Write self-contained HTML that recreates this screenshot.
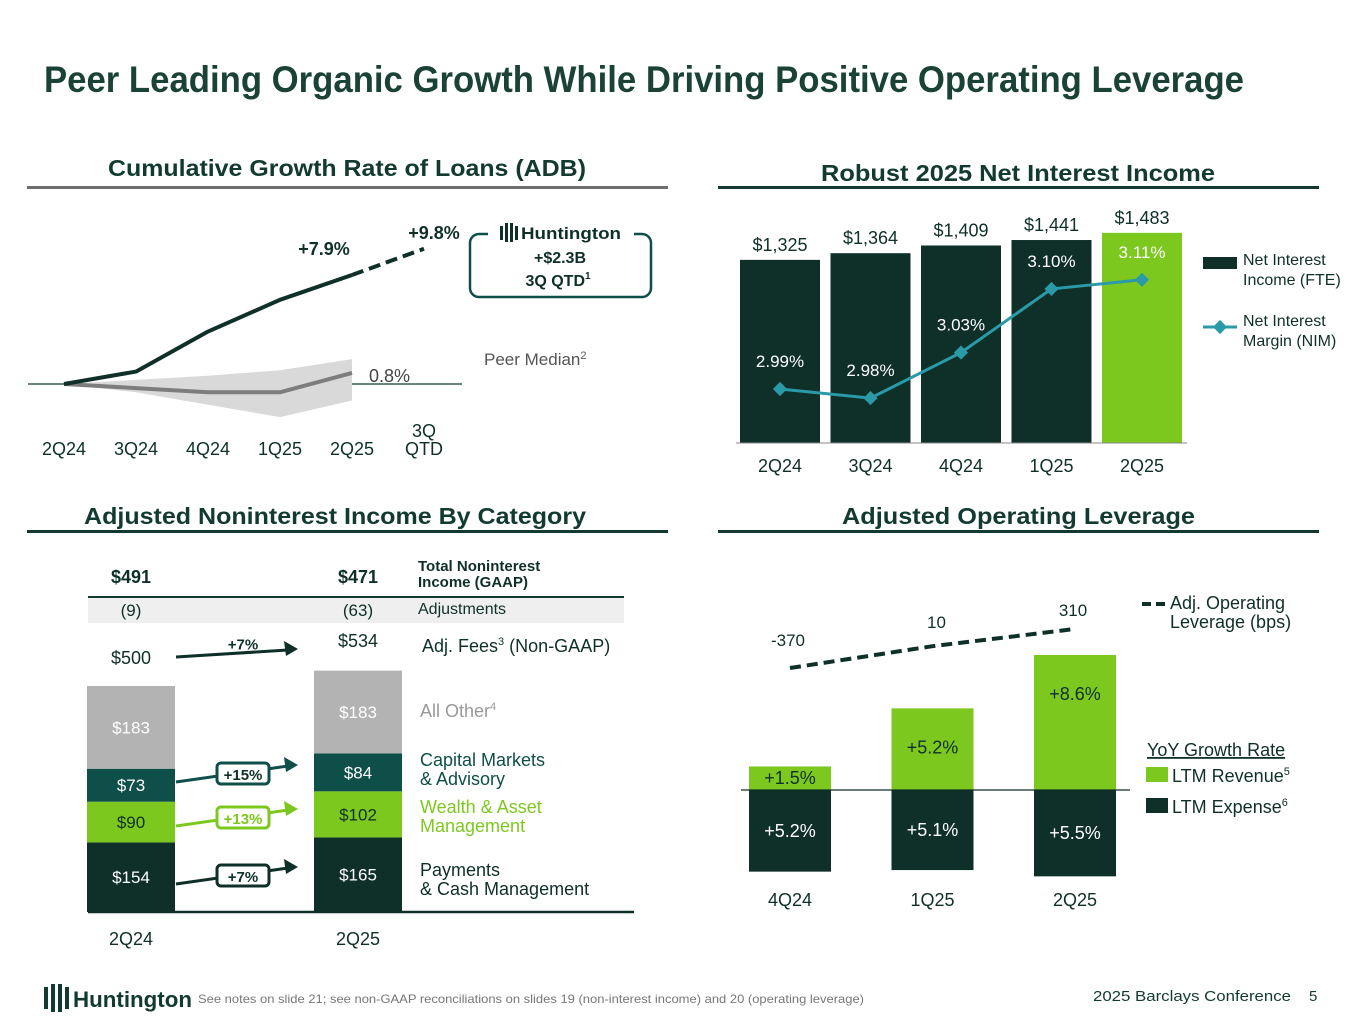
<!DOCTYPE html>
<html><head><meta charset="utf-8"><style>
html,body{margin:0;padding:0;background:#fff;}
svg{display:block;font-family:"Liberation Sans",sans-serif;}
</style></head><body>
<svg id="s" width="1365" height="1024" viewBox="0 0 1365 1024" xmlns="http://www.w3.org/2000/svg">
<text x="44" y="92" font-size="37" font-weight="bold" fill="#1a4236" textLength="1200" lengthAdjust="spacingAndGlyphs">Peer Leading Organic Growth While Driving Positive Operating Leverage</text>

<text x="108" y="176" font-size="23" font-weight="bold" fill="#123a30" textLength="478" lengthAdjust="spacingAndGlyphs">Cumulative Growth Rate of Loans (ADB)</text>
<rect x="27" y="186" width="641" height="3" fill="#6e6e6e"/>
<text x="821" y="181" font-size="23" font-weight="bold" fill="#123a30" textLength="394" lengthAdjust="spacingAndGlyphs">Robust 2025 Net Interest Income</text>
<rect x="718" y="186" width="601" height="3" fill="#123a30"/>
<text x="84" y="524" font-size="23" font-weight="bold" fill="#123a30" textLength="502" lengthAdjust="spacingAndGlyphs">Adjusted Noninterest Income By Category</text>
<rect x="27" y="530" width="641" height="3" fill="#123a30"/>
<text x="842" y="524" font-size="23" font-weight="bold" fill="#123a30" textLength="353" lengthAdjust="spacingAndGlyphs">Adjusted Operating Leverage</text>
<rect x="718" y="530" width="601" height="3" fill="#123a30"/>

<g id="c1"></g><g id="c2"></g><g id="c3"></g><g id="c4"></g>

<g>
<rect x="44" y="987" width="4" height="22" fill="#123a30"/><rect x="51" y="984" width="4" height="28" fill="#123a30"/><rect x="58" y="984" width="4" height="28" fill="#123a30"/><rect x="65" y="987" width="4" height="22" fill="#123a30"/>
<text x="73" y="1007" font-size="22" font-weight="bold" fill="#123a30" textLength="119" lengthAdjust="spacingAndGlyphs">Huntington</text>
</g>
<text x="198" y="1003" font-size="12" fill="#777" textLength="666" lengthAdjust="spacingAndGlyphs">See notes on slide 21; see non-GAAP reconciliations on slides 19 (non-interest income) and 20 (operating leverage)</text>
<text x="1093" y="1001" font-size="15" fill="#123a30" textLength="198" lengthAdjust="spacingAndGlyphs">2025 Barclays Conference</text>
<text x="1309" y="1001" font-size="15" fill="#123a30">5</text>
</svg>
<script>
// ---------- Chart 1 data ----------
const loanCats = ["2Q24","3Q24","4Q24","1Q25","2Q25","3Q\nQTD"];
const hbanGrowth = [0, 0.9, 3.8, 6.1, 7.9, 9.8];
const peerMedian = [0, -0.3, -0.6, -0.6, 0.8];
const peerHigh = [0, 0.3, 0.6, 1.0, 1.8];
const peerLow = [0, -0.6, -1.5, -2.4, -1.2];
// ---------- Chart 2 data ----------
const niiCats = ["2Q24","3Q24","4Q24","1Q25","2Q25"];
const niiValues = [1325, 1364, 1409, 1441, 1483];
const niiLabels = ["$1,325","$1,364","$1,409","$1,441","$1,483"];
const nimValues = [2.99, 2.98, 3.03, 3.10, 3.11];
const nimLabels = ["2.99%","2.98%","3.03%","3.10%","3.11%"];
// ---------- Chart 3 data ----------
const feeCats = ["2Q24","2Q25"];
const payments = [154, 165];
const wealth = [90, 102];
const capMkts = [73, 84];
const allOther = [183, 183];
const adjFees = ["$500","$534"];
// ---------- Chart 4 data ----------
const levCats = ["4Q24","1Q25","2Q25"];
const revGrowth = [1.5, 5.2, 8.6];
const expGrowth = [5.2, 5.1, 5.5];
const opLev = [-370, 10, 310];

const NS="http://www.w3.org/2000/svg";
const DK="#0f2f29", GR="#7dc81f", TL="#2a9aa8", GY="#b3b3b3", TEAL2="#0f4f4a";
function mk(parent,tag,attrs,txt){const e=document.createElementNS(NS,tag);for(const k in attrs)e.setAttribute(k,attrs[k]);if(txt!=null)e.textContent=txt;parent.appendChild(e);return e;}

// ===== Chart 1 =====
(function(){
const g=document.getElementById('c1');
const x=i=>64+i*72, y=v=>384-v*13.8;
const base=mk(g,'line',{x1:28,x2:462,y1:384,y2:384,stroke:"#123a30","stroke-width":1.2});


let band="";
peerHigh.forEach((v,i)=>band+=(i?"L":"M")+x(i)+","+y(v));
for(let i=peerLow.length-1;i>=0;i--)band+="L"+x(i)+","+y(peerLow[i]);
const b=mk(g,'path',{d:band+"Z",fill:"#d9d9d9"});


const pm=mk(g,'polyline',{points:peerMedian.map((v,i)=>x(i)+","+y(v)).join(" "),fill:"none",stroke:"#7d7d7d","stroke-width":4});


const hl=mk(g,'polyline',{points:hbanGrowth.slice(0,5).map((v,i)=>x(i)+","+y(v)).join(" "),fill:"none",stroke:DK,"stroke-width":4,"stroke-linejoin":"round"});


const hd=mk(g,'line',{x1:x(4),y1:y(hbanGrowth[4]),x2:x(5),y2:y(hbanGrowth[5]),stroke:DK,"stroke-width":4,"stroke-dasharray":"12,6"});


const l1=mk(g,'text',{x:x(4)-28,y:y(hbanGrowth[4])-20,"font-size":18,"font-weight":"bold",fill:DK,"text-anchor":"middle"},"+"+hbanGrowth[4]+"%");


const l2=mk(g,'text',{x:x(5)+10,y:y(hbanGrowth[5])-10,"font-size":18,"font-weight":"bold",fill:DK,"text-anchor":"middle"},"+"+hbanGrowth[5]+"%");


const l3=mk(g,'text',{x:x(4)+17,y:y(peerMedian[4])+9,"font-size":18,fill:"#444"},peerMedian[4].toFixed(1)+"%");


const pml=mk(g,'text',{x:484,y:365,"font-size":17,fill:"#555"},"Peer Median");


mk(pml,'tspan',{"font-size":11,dy:-6},"2");
loanCats.forEach((c,i)=>{
  const parts=c.split("\n");
  const t=mk(g,'text',{x:x(i),y:parts.length>1?437:455,"font-size":18,fill:DK,"text-anchor":"middle"});
  
  
  parts.forEach((p,j)=>mk(t,'tspan',{x:x(i),dy:j?18:0},p));
});
const box=mk(g,'rect',{x:470,y:234,width:181,height:63,rx:9,fill:"#fff",stroke:TEAL2,"stroke-width":2.5});


mk(g,'rect',{x:488,y:226,width:146,height:16,fill:"#fff"});
[500,505,510,515].forEach((xx,k)=>mk(g,'rect',{x:xx,y:k==0||k==3?226:223,width:3,height:k==0||k==3?14:19,fill:DK}));
const hn=mk(g,'text',{x:521,y:239,"font-size":17,"font-weight":"bold",fill:DK,textLength:100,lengthAdjust:"spacingAndGlyphs"},"Huntington");


const c1t=mk(g,'text',{x:560,y:263,"font-size":16,"font-weight":"bold",fill:DK,"text-anchor":"middle"},"+$2.3B");


const c2t=mk(g,'text',{x:558,y:286,"font-size":16,"font-weight":"bold",fill:DK,"text-anchor":"middle"},"3Q QTD");


mk(c2t,'tspan',{"font-size":10,dy:-7},"1");
})();

// ===== Chart 2 =====
(function(){
const g=document.getElementById('c2');
const x=i=>780+i*90.5, base=443, h=v=>(v-254)*0.171, yN=v=>389-(v-2.99)*910;
niiValues.forEach((v,i)=>{
  const r=mk(g,'rect',{x:x(i)-40,y:base-h(v),width:80,height:h(v),fill:i==4?GR:DK});
  
  
  const t=mk(g,'text',{x:x(i),y:base-h(v)-9,"font-size":18,fill:DK,"text-anchor":"middle"},niiLabels[i]);
  
  
  const c=mk(g,'text',{x:x(i),y:472,"font-size":18,fill:DK,"text-anchor":"middle"},niiCats[i]);
  
  
});
const ax=mk(g,'line',{x1:736,x2:1187,y1:base,y2:base,stroke:"#888","stroke-width":1});


const nl=mk(g,'polyline',{points:nimValues.map((v,i)=>x(i)+","+yN(v)).join(" "),fill:"none",stroke:TL,"stroke-width":3});


nimValues.forEach((v,i)=>{
  const m=mk(g,'rect',{x:x(i)-5,y:yN(v)-5,width:10,height:10,fill:TL,transform:`rotate(45 ${x(i)} ${yN(v)})`});
  
  
  const t=mk(g,'text',{x:x(i),y:yN(v)-22,"font-size":17,fill:"#fff","text-anchor":"middle"},nimLabels[i]);
  
  
});
const lg1=mk(g,'rect',{x:1203,y:257,width:34,height:12,fill:DK});


const lt1=mk(g,'text',{x:1243,y:265,"font-size":16,fill:DK});


mk(lt1,'tspan',{x:1243,dy:0},"Net Interest");mk(lt1,'tspan',{x:1243,dy:20},"Income (FTE)");
const lg2=mk(g,'line',{x1:1203,x2:1237,y1:327,y2:327,stroke:TL,"stroke-width":3});


mk(g,'rect',{x:1215,y:322,width:10,height:10,fill:TL,transform:"rotate(45 1220 327)"});
const lt2=mk(g,'text',{x:1243,y:326,"font-size":16,fill:DK});


mk(lt2,'tspan',{x:1243,dy:0},"Net Interest");mk(lt2,'tspan',{x:1243,dy:20},"Margin (NIM)");
})();

// ===== Chart 3 =====
(function(){
const g=document.getElementById('c3');
const x=i=>131+i*227, base=912, s=0.452;
const hdr=[["$491","$471"],["(9)","(63)"]];
const band=mk(g,'rect',{x:88,y:597,width:536,height:26,fill:"#efefef"});


const rl=mk(g,'line',{x1:88,x2:624,y1:597,y2:597,stroke:"#123a30","stroke-width":2});


feeCats.forEach((c,i)=>{
  const t1=mk(g,'text',{x:x(i),y:583,"font-size":18,"font-weight":"bold",fill:DK,"text-anchor":"middle"},hdr[0][i]);
  
  
  const t2=mk(g,'text',{x:x(i),y:616,"font-size":17,fill:DK,"text-anchor":"middle"},hdr[1][i]);
  
  
});
const tl=mk(g,'text',{x:418,y:571,"font-size":15,"font-weight":"bold",fill:DK});


mk(tl,'tspan',{x:418,dy:0},"Total Noninterest");mk(tl,'tspan',{x:418,dy:16},"Income (GAAP)");
const al=mk(g,'text',{x:418,y:614,"font-size":16,fill:DK},"Adjustments");


const segs=[[payments,DK,"#fff","payments"],[wealth,GR,DK,"wealth"],[capMkts,"#0f4f4a","#fff","capital-markets"],[allOther,GY,"#fff","all-other"]];
feeCats.forEach((c,i)=>{
  let y=base;
  segs.forEach(([arr,col,tc,nm])=>{
    const hh=arr[i]*s; y-=hh;
    const r=mk(g,'rect',{x:x(i)-44,y:y,width:88,height:hh,fill:col});
    
    
    const t=mk(g,'text',{x:x(i),y:y+hh/2+6,"font-size":17,fill:tc,"text-anchor":"middle"},"$"+arr[i]);
    
    
  });
  const tot=mk(g,'text',{x:x(i),y:i?647:664,"font-size":18,fill:DK,"text-anchor":"middle"},adjFees[i]);
  
  
  const cl=mk(g,'text',{x:x(i),y:945,"font-size":18,fill:DK,"text-anchor":"middle"},c);
  
  
});
const ax=mk(g,'line',{x1:88,x2:634,y1:base,y2:base,stroke:DK,"stroke-width":2.5});


const fl=mk(g,'text',{x:422,y:652,"font-size":18,fill:DK},"Adj. Fees");


mk(fl,'tspan',{"font-size":11,dy:-7},"3");mk(fl,'tspan',{"font-size":18,dy:7}," (Non-GAAP)");
function arrow(y1,y2,col,label,boxed,nm){
  const a=mk(g,'line',{x1:176,y1:y1,x2:288,y2:y2,stroke:col,"stroke-width":3});
  
  
  mk(g,'polygon',{points:`${298},${y2-1} ${284},${y2-9} ${286},${y2+6}`,fill:col});
  if(boxed){const bx=mk(g,'rect',{x:217,y:(y1+y2)/2-11,width:52,height:21,rx:4,fill:"#fff",stroke:col,"stroke-width":3});
  
  }
  const t=mk(g,'text',{x:243,y:(y1+y2)/2+(boxed?6:-4),"font-size":15,"font-weight":"bold",fill:boxed&&col==GR?GR:DK,"text-anchor":"middle"},label);
  
  
}
arrow(657,650,DK,"+7%",false,"total");
arrow(782,766,"#0f4f4a","+15%",true,"capital-markets");
arrow(826,810,GR,"+13%",true,"wealth");
arrow(884,868,DK,"+7%",true,"payments");
const lab=[["All Other",717,GY,"4"],["Capital Markets|& Advisory",766,"#0f4f4a"],["Wealth & Asset|Management",813,GR],["Payments|& Cash Management",876,DK]];
lab.forEach(([t,y,c,sup])=>{
  const e=mk(g,'text',{x:420,y:y,"font-size":18,fill:c==GY?"#999":c});
  
  
  t.split("|").forEach((p,j)=>mk(e,'tspan',{x:420,dy:j?19:0},p));
  if(sup)mk(e,'tspan',{"font-size":11,dy:-7},sup);
});
})();

// ===== Chart 4 =====
(function(){
const g=document.getElementById('c4');
const x=i=>790+i*142.5, base=790, s=15.7, yL=v=>668-(v+370)*0.0574;
levCats.forEach((c,i)=>{
  const r=mk(g,'rect',{x:x(i)-41,y:base-revGrowth[i]*s,width:82,height:revGrowth[i]*s,fill:GR});
  
  
  const e=mk(g,'rect',{x:x(i)-41,y:base,width:82,height:expGrowth[i]*s,fill:DK});
  
  
  const rt=mk(g,'text',{x:x(i),y:i==0?base-6:base-revGrowth[i]*s+45,"font-size":18,fill:DK,"text-anchor":"middle"},"+"+revGrowth[i].toFixed(1)+"%");
  
  
  const et=mk(g,'text',{x:x(i),y:base+expGrowth[i]*s/2+6,"font-size":18,fill:"#fff","text-anchor":"middle"},"+"+expGrowth[i].toFixed(1)+"%");
  
  
  const cl=mk(g,'text',{x:x(i),y:906,"font-size":18,fill:DK,"text-anchor":"middle"},c);
  
  
  const lv=mk(g,'text',{x:x(i)+(i==0?-2:i==1?4:-2),y:yL(opLev[i])-[22,18,13][i],"font-size":17,fill:DK,"text-anchor":"middle"},String(opLev[i]));
  
  
});
const ax=mk(g,'line',{x1:741,x2:1130,y1:base,y2:base,stroke:DK,"stroke-width":1.2});


const dl=mk(g,'polyline',{points:opLev.map((v,i)=>x(i)+","+yL(v)).join(" "),fill:"none",stroke:DK,"stroke-width":4,"stroke-dasharray":"11,6"});


const ls=mk(g,'line',{x1:1142,x2:1166,y1:604,y2:604,stroke:DK,"stroke-width":4,"stroke-dasharray":"9,5"});


const lt=mk(g,'text',{x:1170,y:609,"font-size":18,fill:DK});


mk(lt,'tspan',{x:1170,dy:0},"Adj. Operating");mk(lt,'tspan',{x:1170,dy:19},"Leverage (bps)");
const yh=mk(g,'text',{x:1147,y:756,"font-size":18,fill:DK,"text-decoration":"underline"},"YoY Growth Rate");


const r1=mk(g,'rect',{x:1146,y:767,width:22,height:15,fill:GR});


const t1=mk(g,'text',{x:1172,y:782,"font-size":18,fill:DK},"LTM Revenue");


mk(t1,'tspan',{"font-size":11,dy:-7},"5");
const r2=mk(g,'rect',{x:1146,y:798,width:22,height:15,fill:DK});


const t2=mk(g,'text',{x:1172,y:813,"font-size":18,fill:DK},"LTM Expense");


mk(t2,'tspan',{"font-size":11,dy:-7},"6");
})();
</script>
</body></html>
